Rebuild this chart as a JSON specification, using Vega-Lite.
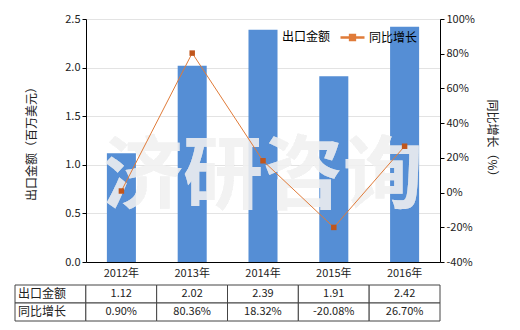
{
  "$schema": "https://vega.github.io/schema/vega-lite/v6.json",
  "background": "white",
  "padding": {"left": 14, "top": 13, "right": 5, "bottom": 5},
  "config": {
    "font": "Noto Sans CJK SC",
    "view": {"stroke": null},
    "concat": {"spacing": 6},
    "axis": {
      "labelFont": "Noto Sans CJK SC",
      "titleFont": "Noto Sans CJK SC",
      "labelColor": "#222",
      "titleColor": "#222",
      "labelFontSize": 11,
      "titleFontSize": 12,
      "titleFontWeight": "normal",
      "domainColor": "#000",
      "tickColor": "#000",
      "labelOverlap": false
    },
    "legend": {"padding": 0, "labelFont": "Noto Sans CJK SC", "labelFontSize": 12, "labelColor": "#000"}
  },
  "datasets": {
    "main": [
      {"year": "2012年", "amount": 1.12, "growth": 0.90},
      {"year": "2013年", "amount": 2.02, "growth": 80.36},
      {"year": "2014年", "amount": 2.39, "growth": 18.32},
      {"year": "2015年", "amount": 1.91, "growth": -20.08},
      {"year": "2016年", "amount": 2.42, "growth": 26.70}
    ],
    "table": [
      {"col": "label", "row": "出口金额", "text": "出口金额"},
      {"col": "2012年", "row": "出口金额", "text": "1.12"},
      {"col": "2013年", "row": "出口金额", "text": "2.02"},
      {"col": "2014年", "row": "出口金额", "text": "2.39"},
      {"col": "2015年", "row": "出口金额", "text": "1.91"},
      {"col": "2016年", "row": "出口金额", "text": "2.42"},
      {"col": "label", "row": "同比增长", "text": "同比增长"},
      {"col": "2012年", "row": "同比增长", "text": "0.90%"},
      {"col": "2013年", "row": "同比增长", "text": "80.36%"},
      {"col": "2014年", "row": "同比增长", "text": "18.32%"},
      {"col": "2015年", "row": "同比增长", "text": "-20.08%"},
      {"col": "2016年", "row": "同比增长", "text": "26.70%"}
    ]
  },
  "vconcat": [
    {
      "width": 354,
      "height": 243,
      "data": {"name": "main"},
      "encoding": {
        "x": {
          "field": "year",
          "type": "nominal",
          "sort": null,
          "scale": {"paddingInner": 0.59, "paddingOuter": 0.295},
          "axis": {"title": null, "labelAngle": 0, "ticks": false, "labelPadding": 5}
        }
      },
      "layer": [
        {
          "layer": [
            {
              "mark": {"type": "bar", "color": "#558ED5"},
              "encoding": {
                "y": {
                  "field": "amount",
                  "type": "quantitative",
                  "scale": {"domain": [0, 2.5], "nice": false},
                  "axis": {
                    "title": "出口金额（百万美元）",
                    "values": [0, 0.5, 1, 1.5, 2, 2.5],
                    "format": ".1f",
                    "gridColor": "#e3e3e3",
                    "tickSize": 4,
                    "titlePadding": 26
                  }
                },
                "color": {
                  "datum": "出口金额",
                  "type": "nominal",
                  "scale": {"domain": ["出口金额"], "range": ["#558ED5"]},
                  "legend": {
                    "orient": "none",
                    "legendX": 178,
                    "legendY": 12,
                    "direction": "horizontal",
                    "title": null,
                    "symbolType": "square",
                    "symbolSize": 100,
                    "labelOffset": 6
                  }
                }
              }
            },
            {
              "mark": {
                "type": "text",
                "text": "济研咨询",
                "fontSize": 80,
                "fontWeight": "bold",
                "fill": "#f0f0f0",
                "fillOpacity": 0.35,
                "baseline": "middle",
                "align": "center"
              },
              "encoding": {
                "x": {"datum": "2014年", "type": "nominal"},
                "y": {"datum": 0.86, "type": "quantitative"}
              }
            }
          ]
        },
        {
          "encoding": {
            "y": {
              "field": "growth",
              "type": "quantitative",
              "scale": {"domain": [-40, 100], "nice": false},
              "axis": {
                "orient": "right",
                "title": "同比增长（%）",
                "values": [-40, -20, 0, 20, 40, 60, 80, 100],
                "labelExpr": "datum.value + '%'",
                "grid": false,
                "tickSize": 4,
                "titlePadding": 10
              }
            }
          },
          "layer": [
            {
              "mark": {"type": "line", "strokeWidth": 1},
              "encoding": {
                "stroke": {
                  "datum": "同比增长",
                  "type": "nominal",
                  "scale": {"domain": ["同比增长"], "range": ["#E07B39"]},
                  "legend": {
                    "orient": "none",
                    "legendX": 257,
                    "legendY": 9,
                    "direction": "horizontal",
                    "title": null,
                    "symbolType": "M-1.5,0H1.5M-0.3,-0.3H0.3V0.3H-0.3Z",
                    "symbolSize": 256,
                    "symbolStrokeColor": "#C0561C",
                    "symbolFillColor": "#C0561C",
                    "symbolStrokeWidth": 2.5,
                    "labelOffset": 7
                  }
                }
              }
            },
            {
              "mark": {"type": "point", "shape": "square", "filled": true, "size": 30, "opacity": 1, "color": "#C0561C"}
            }
          ]
        }
      ],
      "resolve": {"scale": {"y": "independent"}}
    },
    {
      "width": 354,
      "height": 36,
      "data": {"name": "table"},
      "encoding": {
        "x": {
          "field": "col",
          "type": "nominal",
          "scale": {
            "domain": ["label", "2012年", "2013年", "2014年", "2015年", "2016年"],
            "range": [-71, 354],
            "paddingInner": 0,
            "paddingOuter": 0
          },
          "axis": null
        },
        "y": {
          "field": "row",
          "type": "nominal",
          "scale": {"domain": ["出口金额", "同比增长"], "paddingInner": 0, "paddingOuter": 0},
          "axis": null
        }
      },
      "layer": [
        {"mark": {"type": "rect", "fill": "white", "stroke": "#444", "strokeWidth": 1}},
        {
          "transform": [{"filter": "datum.col !== 'label'"}],
          "mark": {"type": "text", "fontSize": 11, "color": "#222"},
          "encoding": {"text": {"field": "text"}}
        },
        {
          "transform": [{"filter": "datum.col === 'label'"}],
          "mark": {"type": "text", "fontSize": 12, "color": "#222", "align": "left", "dx": 3},
          "encoding": {
            "x": {"field": "col", "type": "nominal", "bandPosition": 0},
            "text": {"field": "text"}
          }
        }
      ]
    }
  ]
}
